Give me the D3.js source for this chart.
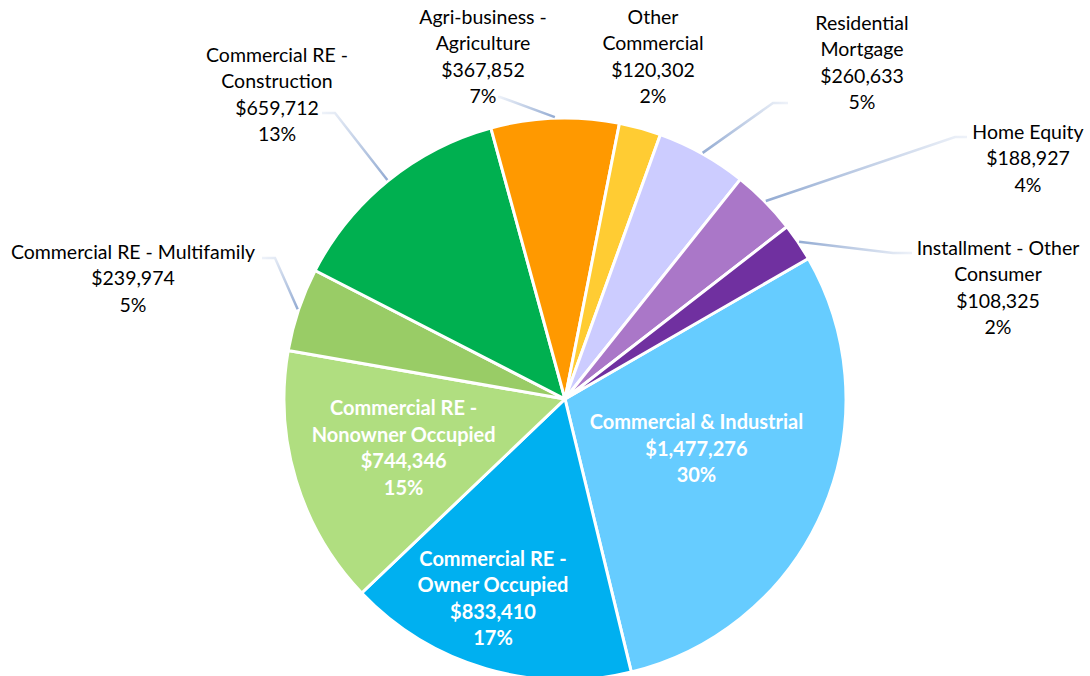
<!DOCTYPE html>
<html>
<head>
<meta charset="utf-8">
<style>
  body { margin: 0; background: #fff; }
  svg { display: block; }
  text { font-family: Lato, "Open Sans", sans-serif; }
</style>
</head>
<body>
<svg id="chart"></svg>
<script src="https://cdn.jsdelivr.net/npm/d3@7"></script>
<script>

  // data, clockwise from the first slice
  const categories = [
    "Commercial & Industrial",
    "Commercial RE - Owner Occupied",
    "Commercial RE - Nonowner Occupied",
    "Commercial RE - Multifamily",
    "Commercial RE - Construction",
    "Agri-business - Agriculture",
    "Other Commercial",
    "Residential Mortgage",
    "Home Equity",
    "Installment - Other Consumer"
  ]
  const values = [1477276, 833410, 744346, 239974, 659712, 367852, 120302, 260633, 188927, 108325]
  const sliceColors = ["#66CCFF", "#00B0F0", "#B0DE80", "#99CC66", "#00B050",
                       "#FF9900", "#FFCC33", "#CCCCFF", "#AA77C8", "#7030A0"]

  // how each label's name is broken into lines
  const labelLines = [
    ["Commercial & Industrial"],
    ["Commercial RE -", "Owner Occupied"],
    ["Commercial RE -", "Nonowner Occupied"],
    ["Commercial RE - Multifamily"],
    ["Commercial RE -", "Construction"],
    ["Agri-business -", "Agriculture"],
    ["Other", "Commercial"],
    ["Residential", "Mortgage"],
    ["Home Equity"],
    ["Installment - Other", "Consumer"]
  ]

  // label layout: inside labels sit near the slice's mid angle at a fraction of the radius,
  // outside labels are placed by hand (offset from the pie centre) with a leader line
  const labelLayout = [
    { inside: true, r: 0.5, a: -2.5 },
    { inside: true, r: 0.755, a: 3.5 },
    { inside: true, r: 0.6, a: 0 },
    { x: -432, y: -147, end: [-303, -141], elbow: 13 },
    { x: -288, y: -344, end: [-243, -286], elbow: 13 },
    { x: -82,  y: -382, end: [-67, -302], elbow: 2 },
    { x: 88,   y: -382 },
    { x: 297,  y: -376, end: [223, -296], elbow: -15 },
    { x: 463,  y: -267, end: [402, -262], elbow: -12 },
    { x: 433,  y: -151, end: [347, -146], elbow: -19 }
  ]

  const W = 1090, H = 676
  const cx = 565, cy = 399, radius = 281
  const lineH = 26.5

  const svg = d3.select("#chart").attr("width", W).attr("height", H)
  const defs = svg.append("defs")
  const g = svg.append("g").attr("transform", `translate(${cx},${cy})`)

  const total = d3.sum(values)
  const fmtMoney = d3.format("$,.0f")
  const fmtPct = d3.format(".0%")

  const startAngle = Math.PI / 3
  const pie = d3.pie().sort(null).value(d => d)
    .startAngle(startAngle).endAngle(startAngle + 2 * Math.PI)
  const arcs = pie(values)

  const arc = d3.arc().innerRadius(0).outerRadius(radius)

  g.selectAll("path.slice")
    .data(arcs)
    .enter().append("path")
      .attr("class", "slice")
      .attr("d", arc)
      .attr("fill", (d, i) => sliceColors[i])
      .attr("stroke", "#fff")
      .attr("stroke-width", 3)
      .attr("stroke-linejoin", "round")

  const mid = d => (d.startAngle + d.endAngle) / 2
  const polar = (a, r) => [Math.sin(a) * r, -Math.cos(a) * r]
  const rad = deg => deg * Math.PI / 180

  // leader lines
  arcs.forEach((d, i) => {
    const L = labelLayout[i]
    if (L.inside || !L.end) return
    const p0 = polar(mid(d), radius + 1)
    const p2 = L.end
    const p1 = [p2[0] + L.elbow, p2[1]]
    const gid = "lead" + i
    defs.append("linearGradient")
      .attr("id", gid)
      .attr("gradientUnits", "userSpaceOnUse")
      .attr("x1", p0[0]).attr("y1", p0[1])
      .attr("x2", p2[0]).attr("y2", p2[1])
      .call(lg => {
        lg.append("stop").attr("offset", "0%").attr("stop-color", "#94ACD3")
        lg.append("stop").attr("offset", "100%").attr("stop-color", "#EEF2F9")
      })
    g.append("path")
      .attr("d", d3.line()([p0, p1, p2]))
      .attr("fill", "none")
      .attr("stroke", `url(#${gid})`)
      .attr("stroke-width", 2.5)
  })

  // labels
  arcs.forEach((d, i) => {
    const L = labelLayout[i]
    const lines = labelLines[i].concat([fmtMoney(values[i]), fmtPct(values[i] / total)])
    let x, y
    if (L.inside) {
      const p = polar(mid(d) + rad(L.a), radius * L.r)
      x = p[0]
      y = p[1] - (lines.length - 1) * lineH / 2
    } else {
      x = L.x
      y = L.y
    }
    const t = g.append("text")
      .attr("text-anchor", "middle")
      .attr("font-size", L.inside ? 20 : 19.5)
      .attr("font-weight", L.inside ? 700 : 400)
      .attr("fill", L.inside ? "#fff" : "#000")
    lines.forEach((s, k) => {
      t.append("tspan")
        .attr("x", x)
        .attr("y", y + k * lineH)
        .attr("dy", "0.35em")
        .text(s)
    })
  })

</script>
</body>
</html>
